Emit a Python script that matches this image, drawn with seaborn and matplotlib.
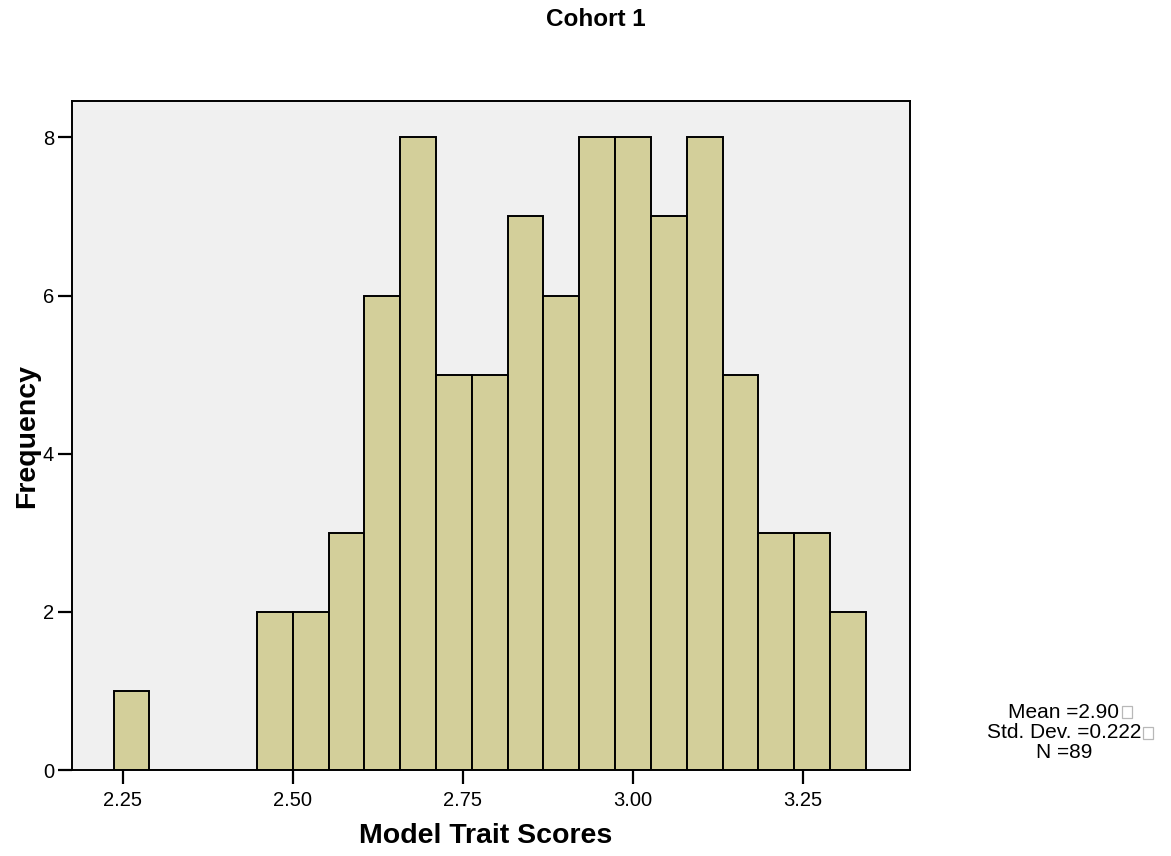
import numpy as np
import pandas as pd
import matplotlib
matplotlib.use("Agg")
import matplotlib.pyplot as plt
from matplotlib.patches import Rectangle
import seaborn as sns

# ---- data ----
bin_width = 1 / 19
first_edge = 42.5 / 19
counts = [1, 0, 0, 0, 2, 2, 3, 6, 8, 5, 5, 7, 6, 8, 8, 7, 8, 5, 3, 3, 2]
x_ticks = [2.25, 2.50, 2.75, 3.00, 3.25]
x_tick_labels = ["2.25", "2.50", "2.75", "3.00", "3.25"]
y_ticks = [0, 2, 4, 6, 8]
title = "Cohort 1"
x_label = "Model Trait Scores"
y_label = "Frequency"
stats_lines = ["Mean =2.90", "Std. Dev. =0.222", "N =89"]
stats_box = [True, True, False]

edges = [first_edge + bin_width * i for i in range(len(counts) + 1)]
centers = [(edges[i] + edges[i + 1]) / 2 for i in range(len(counts))]
df = pd.DataFrame({"score": centers, "count": counts})

sns.set_style("white")
plt.rcParams["font.family"] = ["Liberation Sans", "DejaVu Sans"]
plt.rcParams["text.color"] = "black"
plt.rcParams["axes.labelcolor"] = "black"
plt.rcParams["xtick.color"] = "black"
plt.rcParams["ytick.color"] = "black"

W, H = 1171, 856
fig = plt.figure(figsize=(W / 100, H / 100), dpi=100)
ax = fig.add_axes([72 / W, 1 - 770 / H, (910 - 72) / W, (770 - 101) / H])
ax.set_facecolor("#F0F0F0")

sns.histplot(data=df, x="score", weights="count", bins=edges, ax=ax,
             color="#D3CF9A", alpha=1.0, edgecolor="black", linewidth=1.4)

ax.set_xlim(2.1756, 3.407)
ax.set_ylim(0, 8.46)
ax.set_xticks(x_ticks)
ax.set_xticklabels(x_tick_labels)
ax.set_yticks(y_ticks)
ax.tick_params(axis="both", direction="out", length=10, width=1.6, color="black",
               labelsize=14.5, bottom=True, left=True)
ax.tick_params(axis="x", pad=5)
ax.tick_params(axis="y", pad=3)
for s in ax.spines.values():
    s.set_visible(True)
    s.set_color("black")
    s.set_linewidth(1.4)

ax.set_xlabel("")
ax.set_ylabel("")
fig.text(486 / W, 1 - 836 / H, x_label, ha="center", va="center",
         fontsize=20.5, fontweight="bold")
fig.text(27 / W, 1 - 436 / H, y_label, ha="center", va="center",
         fontsize=20.5, fontweight="bold", rotation=90)

fig.text(596 / W, 1 - 20 / H, title, ha="center", va="center",
         fontsize=17.5, fontweight="bold")

# stats text
line_y = [712, 733, 753]
cx = 1064
for txt, has_box, yy in zip(stats_lines, stats_box, line_y):
    t = fig.text(cx / W, 1 - yy / H, txt, fontsize=15, ha="center", va="center")
fig.canvas.draw()
renderer = fig.canvas.get_renderer()
for t, has_box, yy in zip(fig.texts[-3:], stats_box, line_y):
    if has_box:
        bb = t.get_window_extent(renderer)
        bx = bb.x1 + 2
        fig.patches.append(Rectangle((bx / W, 1 - (yy + 6) / H), 10 / W, 12 / H,
                                     transform=fig.transFigure, fill=False,
                                     edgecolor="#B8B8B8", linewidth=0.9))

fig.savefig("out.png", dpi=100)
